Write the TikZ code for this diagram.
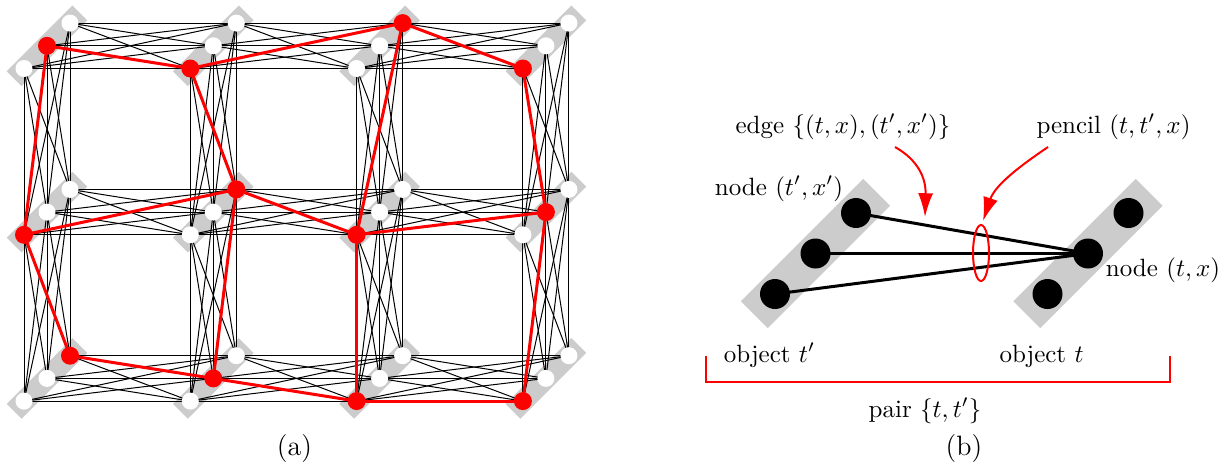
\documentclass[tikz,border=0pt]{standalone}
\usetikzlibrary{arrows.meta,calc,shapes.geometric}
\pgfdeclarelayer{bg}
\pgfdeclarelayer{mid}
\pgfsetlayers{bg,mid,main}
\begin{document}
\begin{tikzpicture}[x=0.4pt,y=-0.4pt,
  smallbar/.style={fill=black!20, rectangle, inner sep=0pt, rotate=45, minimum width=37.2pt, minimum height=8.4pt},
  bigbar/.style={fill=black!20, rectangle, inner sep=0pt, rotate=45, minimum width=69.2pt, minimum height=15.2pt},
  wnode/.style={circle, fill=white, inner sep=0pt, minimum size=6.8pt},
  rnode/.style={circle, fill=red, inner sep=0pt, minimum size=7.2pt},
  bnode/.style={circle, fill=black, inner sep=0pt, minimum size=12pt},
  thinedge/.style={black, line width=0.4pt},
  rededge/.style={red, line width=1.2pt},
  thickedge/.style={black, line width=1.2pt},
  redmark/.style={red, line width=0.8pt},
  redarrow/.style={red, line width=0.8pt, -{Latex[length=9.5pt, width=6pt]}},
  lbl/.style={anchor=base, inner sep=0pt},
  caption/.style={anchor=base, inner sep=0pt, font=\fontsize{11.2}{13}\selectfont}]

\useasboundingbox (0,0) rectangle (1231,468);

% ---------- (a) ----------
\foreach \c in {0,1,2,3} {
  \foreach \r in {0,1,2} {
    \foreach \k in {0,1,2} {
      \node[wnode] (n\c\r\k) at ({24+166.3*\c+23*\k},{68.5+166.3*\r-22.7*\k}) {};
    }
    \begin{pgfonlayer}{bg}
      \node[smallbar] (bar\c\r) at (n\c\r1) {};
    \end{pgfonlayer}
  }
}
% thin edges
\begin{pgfonlayer}{mid}
\foreach \c [evaluate=\c as \cc using int(\c+1)] in {0,1,2} {
  \foreach \r in {0,1,2} {
    \foreach \i in {0,1,2} {
      \foreach \j in {0,1,2} {
        \draw[thinedge] (n\c\r\i.center) -- (n\cc\r\j.center);
      }
    }
  }
}
\foreach \c in {0,1,2,3} {
  \foreach \r [evaluate=\r as \rr using int(\r+1)] in {0,1} {
    \foreach \i in {0,1,2} {
      \foreach \j in {0,1,2} {
        \draw[thinedge] (n\c\r\i.center) -- (n\c\rr\j.center);
      }
    }
  }
}
% red edges
\foreach \a/\b in {001/100,100/202,202/300, 010/112,112/210,210/311, 022/121,121/220,220/320,
                   001/010,010/022, 100/112,112/121, 202/210,210/220, 300/311,311/320} {
  \draw[rededge] (n\a.center) -- (n\b.center);
}
\end{pgfonlayer}
% red nodes
\foreach \a in {001,100,202,300,010,112,210,311,022,121,220,320} {
  \node[rnode] (r\a) at (n\a) {};
}
\node[caption] (capa) at (294.5,455.5) {(a)};

% ---------- (b) ----------
\node[bnode] (L0) at (775,294) {};
\node[bnode] (L1) at (815.5,253.5) {};
\node[bnode] (L2) at (856,213) {};
\node[bnode] (R0) at (1047.5,294) {};
\node[bnode] (R1) at (1088,253.5) {};
\node[bnode] (R2) at (1128.5,213) {};
\begin{pgfonlayer}{bg}
  \node[bigbar] (barL) at (L1) {};
  \node[bigbar] (barR) at (R1) {};
\end{pgfonlayer}
\begin{pgfonlayer}{mid}
  \foreach \l in {L0,L1,L2} {
    \draw[thickedge] (R1.center) -- (\l.center);
  }
\end{pgfonlayer}
\node[ellipse, draw=red, line width=0.8pt, inner sep=0pt, minimum width=6.4pt, minimum height=22.4pt] (pencil) at (981,253) {};

\node[lbl] (edgelbl) at (843,133) {edge $\{(t,x),(t',x')\}$};
\node[lbl] (pencillbl) at (1113.5,133) {pencil $(t,t',x)$};
\node[lbl] (nodeL) at (779,195) {node $(t',x')$};
\node[lbl] (nodeR) at (1163,276) {node $(t,x)$};
\node[lbl] (objL) at (769.5,362) {object $t'$};
\node[lbl] (objR) at (1041.5,362) {object $t$};
\node[lbl] (pair) at (925,417) {pair $\{t,t'\}$};
\node[caption] (capb) at (964,455.5) {(b)};

\coordinate (a1s) at (895,147);
\coordinate (a1e) at (925,217);
\coordinate (a2s) at (1048,147);
\coordinate (a2e) at (983,221);
\draw[redarrow] (a1s) .. controls (918,160) and (926,178) .. (a1e);
\draw[redarrow] (a2s) .. controls (1020,166) and (995,185) .. (a2e);

\coordinate (b1) at (706,356);
\coordinate (b2) at (706,382);
\coordinate (b3) at (1170,382);
\coordinate (b4) at (1170,356);
\draw[redmark] (b1) -- (b2) -- (b3) -- (b4);
\end{tikzpicture}
\end{document}
